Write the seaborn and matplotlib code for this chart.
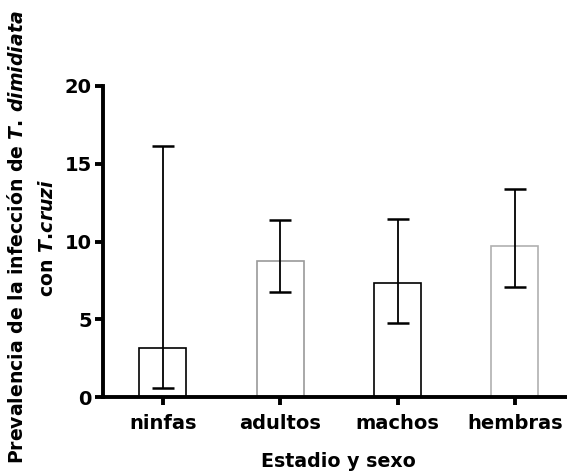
import numpy as np
import pandas as pd
import matplotlib
matplotlib.use("Agg")
import matplotlib.pyplot as plt
import seaborn as sns

# --- datos ---
grupos = ["ninfas", "adultos", "machos", "hembras"]
prevalencia = [3.13, 8.72, 7.31, 9.72]
ic_inferior = [0.56, 6.77, 4.78, 7.09]
ic_superior = [16.14, 11.40, 11.47, 13.38]
colores_borde = ["#000000", "#9a9a9a", "#000000", "#b0b0b0"]

df = pd.DataFrame({"grupo": grupos, "prev": prevalencia})

sns.set_style("ticks")
plt.rcParams['font.family'] = ['DejaVu Sans']
plt.rcParams['font.weight'] = 'bold'
plt.rcParams['text.color'] = 'black'
plt.rcParams['axes.labelcolor'] = 'black'
plt.rcParams['axes.edgecolor'] = 'black'
plt.rcParams['xtick.color'] = 'black'
plt.rcParams['ytick.color'] = 'black'
plt.rcParams['mathtext.fontset'] = 'custom'
plt.rcParams['mathtext.rm'] = 'DejaVu Sans:bold'
plt.rcParams['mathtext.it'] = 'DejaVu Sans:italic:bold'

fig = plt.figure(figsize=(5.67, 4.74), dpi=100)
ax = fig.add_axes([0.1817, 0.1624, 0.83, 0.6562])

sns.barplot(data=df, x="grupo", y="prev", ax=ax, width=0.4,
            color="white", errorbar=None, linewidth=1.2)
for barra, c in zip(ax.patches, colores_borde):
    barra.set_edgecolor(c)
    barra.set_facecolor("white")

# --- barras de error (intervalos asimétricos) ---
x = np.arange(len(grupos))
prev = np.array(prevalencia)
err = [prev - np.array(ic_inferior), np.array(ic_superior) - prev]
ax.errorbar(x, prev, yerr=err, fmt="none", ecolor="black",
            elinewidth=1.3, capsize=8, capthick=1.8, zorder=3)

ax.set_ylim(0, 20)
ax.set_xlim(-0.51, 3.5)
ax.set_yticks([0, 5, 10, 15, 20])

for s in ["top", "right"]:
    ax.spines[s].set_visible(False)
for s in ["left", "bottom"]:
    ax.spines[s].set_linewidth(2.8)
ax.tick_params(axis="both", width=2.8, length=6, labelsize=14, pad=2)
ax.tick_params(axis="x", labelsize=14, pad=6)
for t in ax.get_xticklabels() + ax.get_yticklabels():
    t.set_fontweight("bold")

ax.set_xlabel("Estadio y sexo", fontsize=13.7, fontweight="bold", labelpad=14)
ax.set_ylabel("Prevalencia de la infección de $\\mathit{T.\\,dimidiata}$\ncon $\\mathit{T.\\!cruzi}$",
              fontsize=13.6, fontweight="bold", linespacing=1.75)
ax.yaxis.set_label_coords(-0.098, 0.513)

fig.savefig("out.png", dpi=100)
